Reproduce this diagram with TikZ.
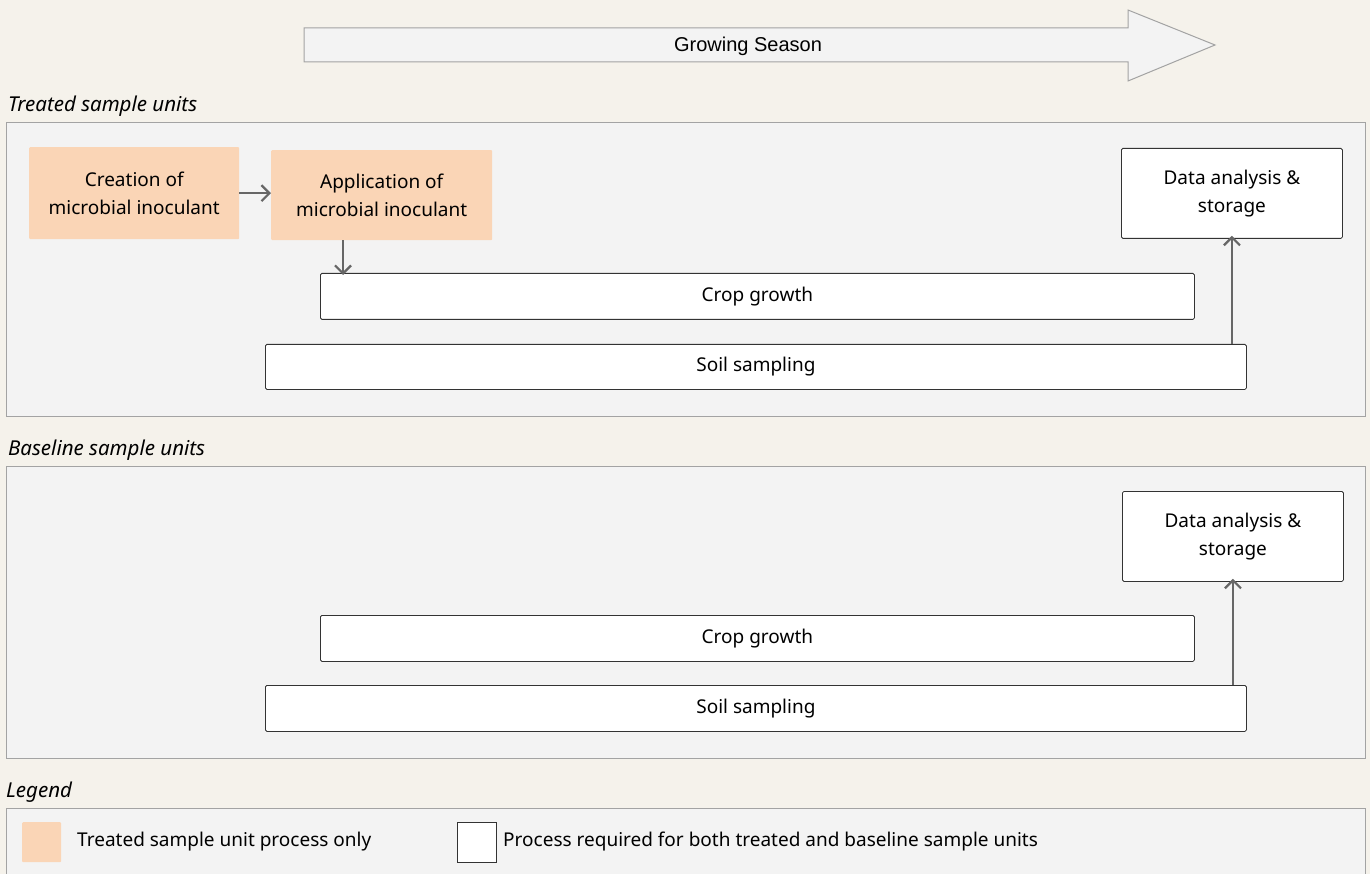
\documentclass[tikz,border=0pt]{standalone}
\usepackage{fontspec}
\setmainfont{Noto Sans}
\newfontfamily\arrowfont{Liberation Sans}
\usetikzlibrary{arrows.meta}
\definecolor{bgbeige}{HTML}{F5F2EB}
\definecolor{panelgray}{HTML}{F3F3F3}
\definecolor{panelline}{HTML}{A3A3A3}
\definecolor{treated}{HTML}{FAD5B6}
\definecolor{arrowgray}{HTML}{666666}
\begin{document}
\begin{tikzpicture}[x=1pt,y=-1pt,>={Straight Barb[length=8pt,width=16pt]},
  every node/.style={font=\fontsize{19}{28}\selectfont},
  panel/.style={draw=panelline,fill=panelgray,line width=1pt},
  header/.style={anchor=west,inner sep=0pt,font=\fontsize{20.5}{24}\selectfont\itshape},
  procbox/.style={draw=black!80,fill=white,line width=0.8pt,rounded corners=1.5pt,anchor=north west,inner sep=0pt,align=center},
  treatbox/.style={fill=treated,rounded corners=1pt,anchor=north west,inner sep=0pt,align=center},
  flow/.style={->,draw=arrowgray,line width=2.2pt}]
  \useasboundingbox (0,0) rectangle (1370,874);
  \fill[bgbeige] (0,0) rectangle (1370,874);

  % growing season arrow
  \draw[panelline,fill=panelgray,line width=1pt] (304,28) -- (1128,28) -- (1128,10) -- (1215,45)
    -- (1128,81) -- (1128,62) -- (304,62) -- cycle;
  \node[font=\arrowfont\fontsize{20}{24}\selectfont] (season) at (748,46) {Growing Season};

  % treated sample units
  \node[header] (treatedhead) at (8,106) {Treated sample units};
  \draw[panel] (6,123) rectangle (1365,416);
  \node[treatbox,minimum width=210pt,minimum height=92pt] (create) at (29,147) {Creation of\\microbial inoculant};
  \node[treatbox,minimum width=221pt,minimum height=90pt] (apply) at (271,150) {Application of\\microbial inoculant};
  \node[procbox,minimum width=221pt,minimum height=90pt] (data1) at (1121,148) {Data analysis \&\\storage};
  \node[procbox,minimum width=874pt,minimum height=46pt] (crop1) at (320,273) {Crop growth};
  \node[procbox,minimum width=981pt,minimum height=45pt] (soil1) at (265,344) {Soil sampling};
  \draw[flow] (create.east) -- (apply.west |- create.east);
  \coordinate (drop1) at ([xshift=23pt]crop1.north west);
  \draw[flow] (apply.south -| drop1) -- ([yshift=-2pt]drop1);
  \draw[flow] (soil1.north -| data1.south) -- ([yshift=3pt]data1.south);

  % baseline sample units
  \node[header] (basehead) at (8,450) {Baseline sample units};
  \draw[panel] (6,466) rectangle (1365,758);
  \node[procbox,minimum width=221pt,minimum height=90pt] (data2) at (1122,491) {Data analysis \&\\storage};
  \node[procbox,minimum width=874pt,minimum height=46pt] (crop2) at (320,615) {Crop growth};
  \node[procbox,minimum width=981pt,minimum height=46pt] (soil2) at (265,685) {Soil sampling};
  \draw[flow] (soil2.north -| data2.south) -- ([yshift=3pt]data2.south);

  % legend
  \node[header] (leghead) at (6,792) {Legend};
  \draw[panel] (6,808) rectangle (1365,880);
  \node[treatbox,minimum width=39pt,minimum height=40pt] (swatchA) at (22,822) {};
  \node[anchor=west,inner sep=0pt] (legA) at (77,842) {Treated sample unit process only};
  \node[procbox,rounded corners=0pt,minimum width=39pt,minimum height=40pt] (swatchB) at (457,822) {};
  \node[anchor=west,inner sep=0pt] (legB) at (503,842) {Process required for both treated and baseline sample units};
\end{tikzpicture}
\end{document}
